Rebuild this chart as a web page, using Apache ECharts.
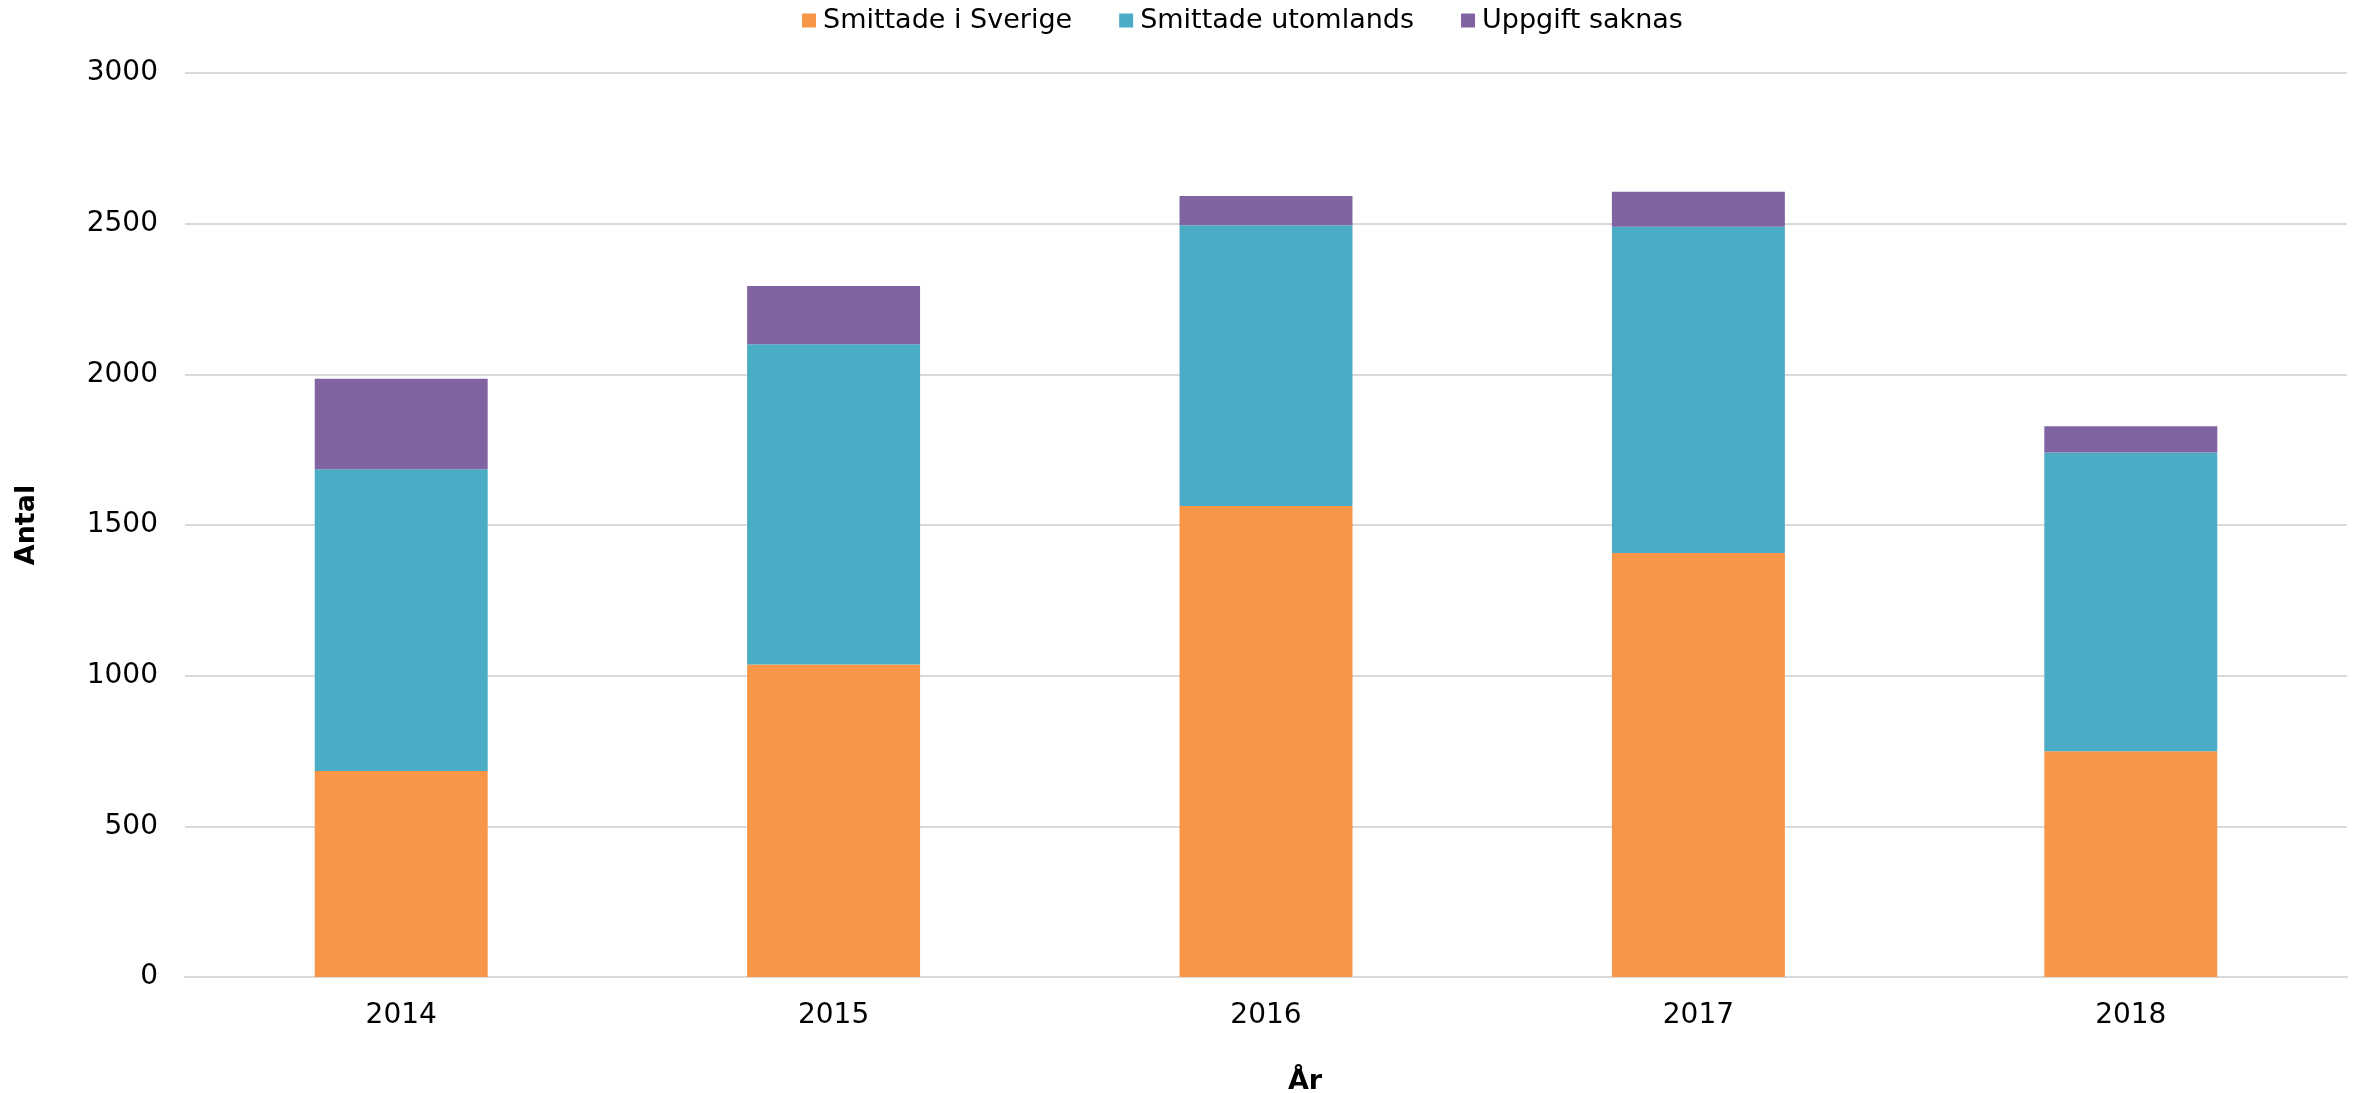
<!DOCTYPE html>
<html>
<head>
<meta charset="utf-8">
<script src="https://cdn.jsdelivr.net/npm/echarts@6/dist/echarts.min.js"></script>
<style>html,body{margin:0;padding:0;background:#fff}#c{width:2359px;height:1093px}</style>
</head>
<body>
<div id="c"></div>
<script>
const years = ['2014', '2015', '2016', '2017', '2018'];
const smittadeSverige = [684, 1037, 1563, 1407, 749];
const smittadeUtomlands = [1001, 1063, 932, 1083, 992];
const uppgiftSaknas = [300, 193, 97, 116, 87];
const yTicks = { min: 0, max: 3000, interval: 500 };

const font = 'DejaVu Sans, Verdana, sans-serif';
const chart = echarts.init(document.getElementById('c'), null, { renderer: 'canvas' });
chart.setOption({
  backgroundColor: '#fff',
  animation: false,
  textStyle: { fontFamily: font, color: '#000' },
  legend: {
    left: 797, top: 2,
    itemWidth: 14, itemHeight: 14, itemGap: 47,
    icon: 'rect',
    textStyle: { fontFamily: font, fontSize: 27, color: '#000', padding: [0, 0, 0, 2] },
    data: ['Smittade i Sverige', 'Smittade utomlands', 'Uppgift saknas']
  },
  grid: { left: 185, right: 12, top: 73, bottom: 116, containLabel: false, outerBoundsMode: 'none' },
  xAxis: {
    type: 'category',
    data: years,
    name: 'År',
    nameLocation: 'middle',
    nameGap: 91,
    nameTextStyle: { fontFamily: font, fontSize: 27, fontWeight: 'bold', color: '#000', padding: [0, 0, 0, 78] },
    axisLine: { show: true, lineStyle: { color: '#d9d9d9', width: 2 } },
    axisTick: { show: false },
    axisLabel: { fontFamily: font, fontSize: 28, color: '#000', margin: 25 }
  },
  yAxis: {
    type: 'value',
    min: yTicks.min, max: yTicks.max, interval: yTicks.interval,
    name: 'Antal',
    nameLocation: 'middle',
    nameGap: 145,
    nameTextStyle: { fontFamily: font, fontSize: 27, fontWeight: 'bold', color: '#000' },
    axisLine: { show: false },
    axisTick: { show: false },
    axisLabel: { fontFamily: font, fontSize: 28, color: '#000', margin: 27, formatter: v => String(v) },
    splitLine: { lineStyle: { color: '#d9d9d9', width: 2 } }
  },
  series: [
    { name: 'Smittade i Sverige', type: 'bar', stack: 'a', data: smittadeSverige, barWidth: '40%', itemStyle: { color: '#F79646' } },
    { name: 'Smittade utomlands', type: 'bar', stack: 'a', data: smittadeUtomlands, barWidth: '40%', itemStyle: { color: '#4BACC6' } },
    { name: 'Uppgift saknas', type: 'bar', stack: 'a', data: uppgiftSaknas, barWidth: '40%', itemStyle: { color: '#8064A2' } }
  ]
});
</script>
</body>
</html>
